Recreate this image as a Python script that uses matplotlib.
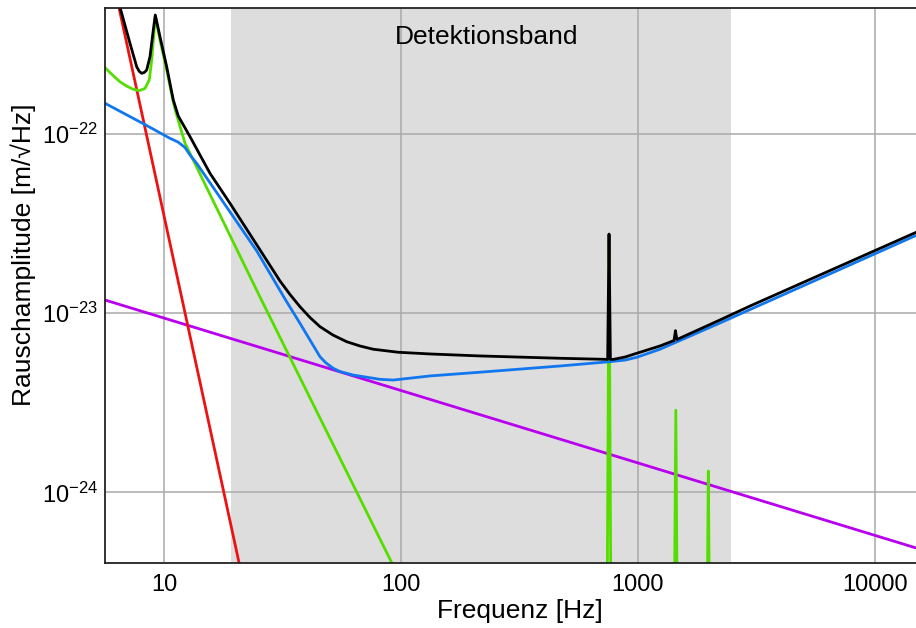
import numpy as np
import matplotlib
matplotlib.use("Agg")
import matplotlib.pyplot as plt
from matplotlib.ticker import NullLocator

plt.rcParams['font.family'] = ['Liberation Sans', 'DejaVu Sans']
plt.rcParams['mathtext.fontset'] = 'custom'
plt.rcParams['mathtext.rm'] = 'Liberation Sans'
plt.rcParams['mathtext.it'] = 'Liberation Sans:italic'
plt.rcParams['mathtext.default'] = 'regular'

# --- noise curves (frequency in Hz, amplitude in m/sqrt(Hz)) ---
seismic_f = [6.0, 22.0]
seismic_a = [7.9e-22, 2.8e-25]

gravity_f = [5.628, 14918]
gravity_a = [1.186e-23, 4.9e-25]

thermal_f = [5.628, 6.05, 6.51, 6.97, 7.41, 7.855, 8.303, 8.657, 8.861, 9.06, 9.176,
             9.605, 10.25, 10.93, 11.14, 12.25, 25.39, 41.28, 91.3, 94.3]
thermal_a = [2.35e-22, 2.14e-22, 1.96e-22, 1.85e-22, 1.78e-22, 1.75e-22, 1.80e-22,
             2.01e-22, 2.59e-22, 3.66e-22, 4.55e-22, 3.35e-22, 2.28e-22, 1.51e-22,
             1.36e-22, 8.9e-23, 1.233e-23, 3.37e-24, 4.06e-25, 3.69e-25]

# violin-mode resonances of the suspension: (frequency, peak amplitude)
resonance_f = [755, 1445, 1982]
resonance_a = [2.7e-23, 2.88e-24, 1.317e-24]
resonance_floor = 1e-26
resonance_halfwidth = 10 ** 0.013

shot_f = [5.628, 8.36, 10.58, 11.44, 12.25, 12.86, 13.72, 18.97, 24.59, 32.37,
          37.45, 45.49, 48.22, 51.76, 55.25, 62.86, 81.5, 92.75, 132.5, 215.4,
          468.8, 762, 881.7, 987.9, 1239, 2220, 14918]
shot_a = [1.487e-22, 1.125e-22, 9.48e-23, 9.04e-23, 8.42e-23, 7.65e-23, 6.87e-23,
          3.68e-23, 2.23e-23, 1.202e-23, 8.79e-24, 5.72e-24, 5.28e-24, 4.93e-24,
          4.73e-24, 4.52e-24, 4.28e-24, 4.24e-24, 4.47e-24, 4.69e-24, 5.08e-24,
          5.37e-24, 5.48e-24, 5.68e-24, 6.3e-24, 8.83e-24, 2.72e-23]

total_f = [6.385, 7.175, 7.657, 7.847, 8.039, 8.238, 8.44, 8.715, 9.0, 9.176, 9.605,
           10.25, 10.93, 11.47, 12.86, 15.61, 18.97, 25.39, 30.83, 33.98, 37.45,
           41.28, 45.49, 51.61, 58.97, 67.1, 76.35, 97.4, 132.5, 215.4, 468.8, 745,
           755, 765, 787, 881.7, 987.9, 1239, 1420, 1440, 1460, 2220, 2972, 14918]
total_a = [5.61e-22, 3.214e-22, 2.379e-22, 2.243e-22, 2.186e-22, 2.209e-22, 2.281e-22,
           2.705e-22, 3.815e-22, 4.625e-22, 3.5e-22, 2.379e-22, 1.551e-22, 1.263e-22,
           9.68e-23, 6.05e-23, 4.11e-23, 2.26e-23, 1.515e-23, 1.274e-23, 1.088e-23,
           9.47e-24, 8.42e-24, 7.56e-24, 6.94e-24, 6.57e-24, 6.3e-24, 6.06e-24,
           5.93e-24, 5.78e-24, 5.61e-24, 5.53e-24, 2.77e-23, 5.53e-24, 5.53e-24,
           5.7e-24, 5.98e-24, 6.57e-24, 7.05e-24, 8.0e-24, 7.14e-24, 9.18e-24,
           1.098e-23, 2.83e-23]

band_f = [19.1, 2464]
band_label = "Detektionsband"

x_ticks = [10, 100, 1000, 10000]
x_ticklabels = ["10", "100", "1000", "10000"]
y_ticks = [1e-24, 1e-23, 1e-22]
y_ticklabels = [r"$10^{-24}$", r"$10^{-23}$", r"$10^{-22}$"]

x_limits = [5.628, 14918]
y_limits = [4.064e-25, 5.093e-22]

# --- figure ---
fig = plt.figure(figsize=(9.16, 6.28), dpi=100)
ax = fig.add_axes([105 / 916, 1 - 562.5 / 628, 811 / 916, 555 / 628])
ax.set_xscale('log')
ax.set_yscale('log')
ax.set_xlim(x_limits)
ax.set_ylim(y_limits)

ax.axvspan(band_f[0], band_f[1], color='#dddddd', lw=0, zorder=0.2)
ax.set_axisbelow(True)
ax.grid(True, which='major', color='#aaaaaa', lw=1.1)

# resonance spikes as narrow peaks rising from far below the axis
res_x, res_y = [], []
for f0, a0 in zip(resonance_f, resonance_a):
    res_x += [f0 / resonance_halfwidth, f0, f0 * resonance_halfwidth, np.nan]
    res_y += [resonance_floor, a0, resonance_floor, np.nan]

lw = 2.0
style = dict(lw=lw, solid_joinstyle='round', solid_capstyle='round')
ax.plot(gravity_f, gravity_a, color='#b800ee', **style)
ax.plot(seismic_f, seismic_a, color='#ee1111', **style)
ax.plot(thermal_f, thermal_a, color='#55dd00', **style)
ax.plot(res_x, res_y, color='#55dd00', lw=lw)
ax.plot(shot_f, shot_a, color='#1177ee', **style)
ax.plot(total_f, total_a, color='black', **style)

ax.text(0.471, 0.947, band_label, transform=ax.transAxes, ha='center', va='center',
        fontsize=19)

ax.set_xticks(x_ticks)
ax.set_xticklabels(x_ticklabels)
ax.set_yticks(y_ticks)
ax.set_yticklabels(y_ticklabels)
ax.xaxis.set_minor_locator(NullLocator())
ax.yaxis.set_minor_locator(NullLocator())
ax.tick_params(axis='both', which='major', length=0, labelsize=17)
ax.tick_params(axis='x', pad=8)
ax.tick_params(axis='y', pad=5)

ax.set_xlabel("Frequenz [Hz]", fontsize=19)
ax.set_ylabel("Rauschamplitude [m/\u221aHz]", fontsize=19)
ax.xaxis.set_label_coords(0.512, -0.066)
ax.yaxis.set_label_coords(-0.085, 0.554)

for side in ['left', 'bottom', 'top']:
    ax.spines[side].set_color('#222222')
    ax.spines[side].set_linewidth(1.3)
ax.spines['right'].set_visible(False)

fig.savefig("out.png", dpi=100)
